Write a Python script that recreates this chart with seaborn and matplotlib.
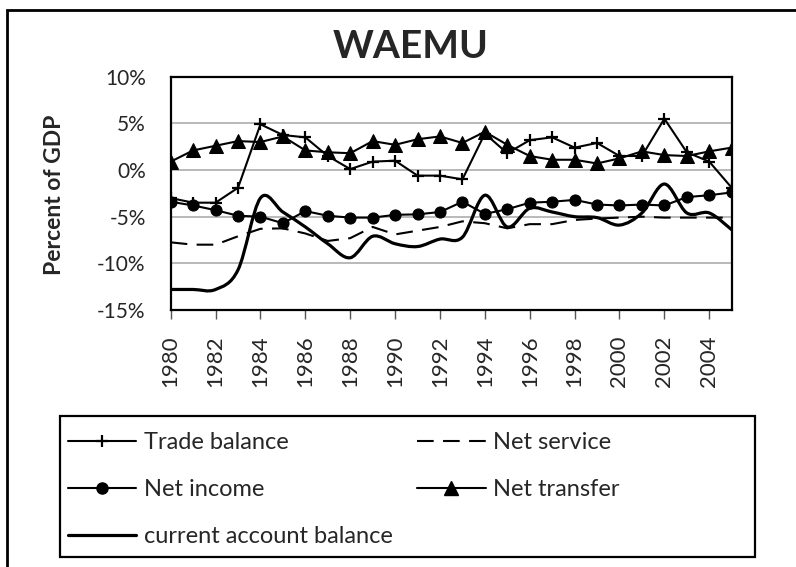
import numpy as np
import pandas as pd
import seaborn as sns
import matplotlib.pyplot as plt
from matplotlib.lines import Line2D
from matplotlib.path import Path
from matplotlib.patches import PathPatch, Rectangle

years = list(range(1980, 2006))

trade_balance = [-3.0, -3.5, -3.5, -1.9, 4.9, 3.75, 3.5, 1.5, 0.1, 0.9, 1.0, -0.6, -0.6,
                 -1.0, 3.9, 1.8, 3.2, 3.5, 2.4, 2.9, 1.5, 1.5, 5.5, 1.9, 0.9, -1.9]
net_service = [-7.75, -8.0, -8.0, -7.1, -6.3, -6.25, -6.8, -7.6, -7.3, -6.1, -6.9, -6.5, -6.1,
               -5.5, -5.7, -6.25, -5.8, -5.8, -5.35, -5.2, -5.1, -5.0, -5.1, -5.1, -5.1, -5.1]
net_income = [-3.4, -3.8, -4.3, -4.9, -5.0, -5.7, -4.4, -4.9, -5.1, -5.1, -4.8, -4.75, -4.5,
              -3.4, -4.7, -4.2, -3.5, -3.4, -3.2, -3.7, -3.8, -3.7, -3.8, -2.9, -2.7, -2.4]
net_transfer = [0.9, 2.1, 2.6, 3.1, 3.0, 3.6, 2.1, 1.9, 1.8, 3.1, 2.7, 3.3, 3.6,
                2.9, 4.1, 2.7, 1.5, 1.1, 1.1, 0.7, 1.25, 2.0, 1.6, 1.5, 2.0, 2.4]
current_account = [-12.8, -12.8, -12.8, -10.7, -3.0, -4.5, -6.1, -7.9, -9.4, -7.1, -7.9, -8.2, -7.4,
                   -7.2, -2.7, -6.1, -4.1, -4.5, -5.0, -5.1, -5.9, -4.6, -1.5, -4.6, -4.6, -6.4]

y_ticks = [10, 5, 0, -5, -10, -15]
x_ticks = list(range(1980, 2005, 2))

df = pd.DataFrame({'year': years, 'trade': trade_balance, 'service': net_service,
                   'income': net_income, 'transfer': net_transfer, 'ca': current_account})

sns.set_style('white')
plt.rcParams['font.family'] = ['Lato', 'DejaVu Sans']

fig = plt.figure(figsize=(7.96, 5.67), dpi=100)
ax = fig.add_axes([170.7 / 796, 1 - 310 / 567, 561 / 796, 233.3 / 567])

lw = 1.5
dash = (0, (8, 4.5))
sns.lineplot(data=df, x='year', y='trade', ax=ax, color='black', lw=lw,
             marker='+', markersize=9, markeredgewidth=1.6, markeredgecolor='black')
sns.lineplot(data=df, x='year', y='service', ax=ax, color='black', lw=lw, linestyle=dash)
sns.lineplot(data=df, x='year', y='income', ax=ax, color='black', lw=lw,
             marker='o', markersize=8, markeredgecolor='black')
sns.lineplot(data=df, x='year', y='transfer', ax=ax, color='black', lw=lw,
             marker='^', markersize=9.5, markeredgecolor='black')

# smoothed current account line (Excel-style smoothing through the data points)
pts = np.column_stack([df['year'].to_numpy(float), df['ca'].to_numpy(float)])
ext = np.vstack([pts[0], pts, pts[-1]])
verts = [pts[0]]
codes = [Path.MOVETO]
for i in range(len(pts) - 1):
    p0, p1, p2, p3 = ext[i], ext[i + 1], ext[i + 2], ext[i + 3]
    verts += [p1 + (p2 - p0) / 6, p2 - (p3 - p1) / 6, p2]
    codes += [Path.CURVE4] * 3
ax.add_patch(PathPatch(Path(verts, codes), fill=False, lw=2.3, edgecolor='black',
                       capstyle='round', joinstyle='round'))

ax.set_xlim(1980, 2005)
ax.set_ylim(-15, 10)
ax.set_xticks(x_ticks)
ax.set_xticklabels([str(y) for y in x_ticks], rotation=90, fontsize=16)
ax.set_yticks(y_ticks)
ax.set_yticklabels([f'{v}%' for v in y_ticks], fontsize=15)
ax.tick_params(axis='x', bottom=True, length=6.5, width=1, color='#555555', pad=12)
ax.tick_params(axis='y', left=False, length=0, pad=18)
ax.set_xlabel('')
ax.set_ylabel('')
for v in y_ticks[1:-1]:
    ax.axhline(v, color='#a6a6a6', lw=1.1, zorder=0)
for s in ax.spines.values():
    s.set_visible(True)
    s.set_color('black')
    s.set_linewidth(1.6)

fig.text(411 / 796, 1 - 47 / 567, 'WAEMU', ha='center', va='center',
         fontsize=28, fontweight='bold')
fig.text(55 / 796, 1 - 195 / 567, 'Percent of GDP', ha='center', va='center',
         rotation=90, fontsize=16.5, fontweight='bold')

# legend
h_trade = Line2D([], [], color='black', lw=lw, marker='+', markersize=9, markeredgewidth=1.6)
h_service = Line2D([], [], color='black', lw=lw, linestyle=dash)
h_income = Line2D([], [], color='black', lw=lw, marker='o', markersize=8)
h_transfer = Line2D([], [], color='black', lw=lw, marker='^', markersize=9.5)
h_ca = Line2D([], [], color='black', lw=2.3)
handles = [h_trade, h_income, h_ca, h_service, h_transfer]
labels = ['Trade balance', 'Net income', 'current account balance', 'Net service', 'Net transfer']
fig.legend(handles, labels, ncol=2, loc='upper left', bbox_to_anchor=(68 / 796, 1 - 432 / 567),
           frameon=False, borderaxespad=0, borderpad=0, fontsize=17, numpoints=1,
           handlelength=2.9, handletextpad=0.3, labelspacing=1.1, columnspacing=1.05)

fig.add_artist(Rectangle((60 / 796, 1 - 557 / 567), 695 / 796, 141 / 567, fill=False,
                         lw=1.6, edgecolor='black', transform=fig.transFigure))
fig.add_artist(Rectangle((7 / 796, -0.1), 1.2, 1.1 - 10 / 567, fill=False,
                         lw=2, edgecolor='black', transform=fig.transFigure))

fig.savefig('out.png', dpi=100)
